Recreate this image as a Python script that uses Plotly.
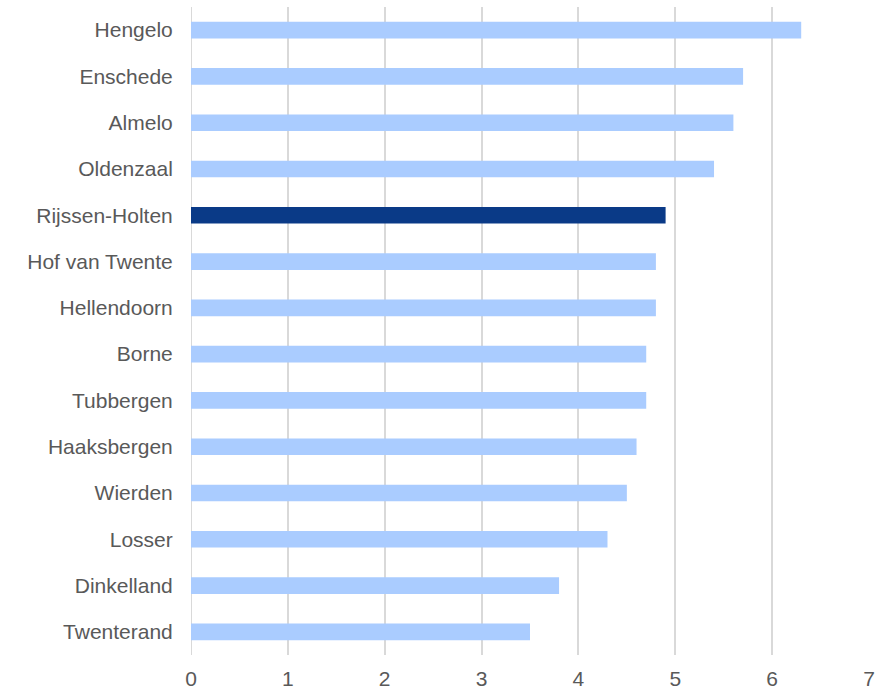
import plotly.graph_objects as go

categories = ["Hengelo", "Enschede", "Almelo", "Oldenzaal", "Rijssen-Holten",
              "Hof van Twente", "Hellendoorn", "Borne", "Tubbergen", "Haaksbergen",
              "Wierden", "Losser", "Dinkelland", "Twenterand"]
values = [6.3, 5.7, 5.6, 5.4, 4.9, 4.8, 4.8, 4.7, 4.7, 4.6, 4.5, 4.3, 3.8, 3.5]
highlight = "Rijssen-Holten"
x_ticks = [0, 1, 2, 3, 4, 5, 6, 7]

colors = ["#0a3a87" if c == highlight else "#aaccff" for c in categories]

fig = go.Figure(go.Bar(
    x=values, y=categories, orientation="h",
    marker=dict(color=colors, line=dict(width=0)),
    width=0.36, hoverinfo="x+y",
))

fig.update_layout(
    width=883, height=690,
    margin=dict(l=191, r=14, t=7, b=35),
    plot_bgcolor="white", paper_bgcolor="white",
    font=dict(family="Liberation Sans", size=21, color="#595959"),
    showlegend=False,
    xaxis=dict(range=[0, 7], tickvals=x_ticks, showgrid=True, gridcolor="#d9d9d9",
               gridwidth=2, zeroline=False, showline=False, automargin=False,
               ticks="outside", ticklen=5, tickcolor="rgba(0,0,0,0)"),
    yaxis=dict(autorange="reversed", showgrid=False, zeroline=False, showline=False,
               automargin=False,
               ticks="outside", ticklen=13, tickcolor="rgba(0,0,0,0)"),
)
fig.add_shape(type="line", xref="x", yref="paper", x0=0, x1=0, y0=0, y1=1,
              line=dict(color="#d9d9d9", width=2), layer="below")

fig.write_html("out.html")
